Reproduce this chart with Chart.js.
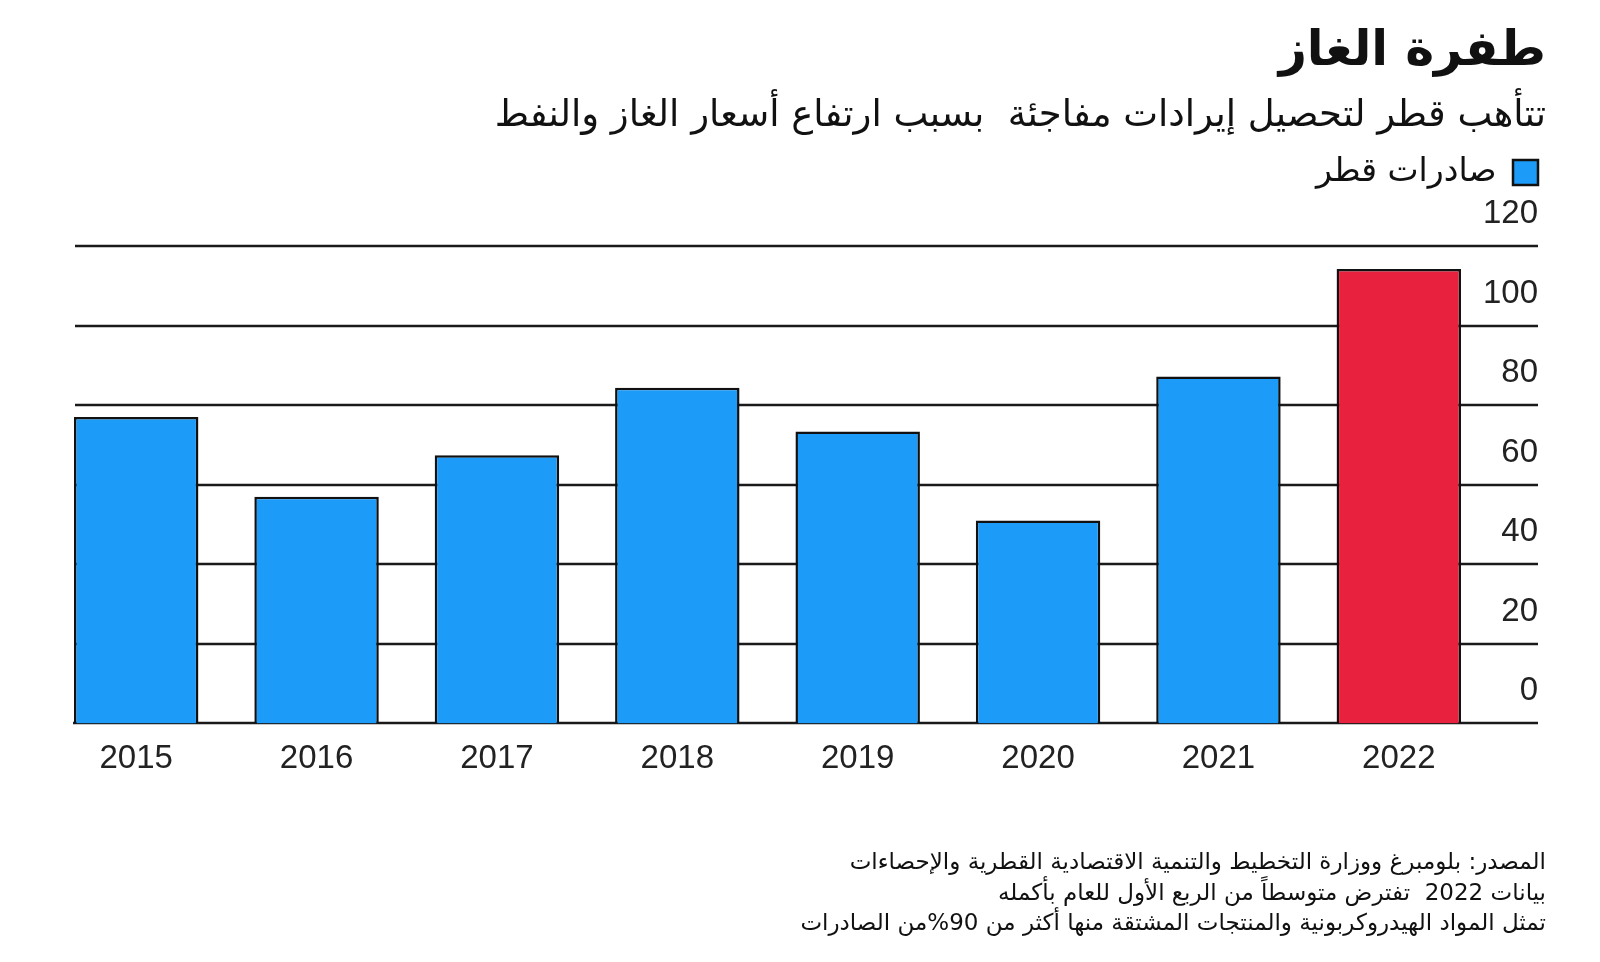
<!DOCTYPE html>
<html lang="ar" dir="rtl">
<head>
<meta charset="utf-8">
<script src="https://cdn.jsdelivr.net/npm/chart.js@4"></script>
<style>
    html, body { margin: 0; padding: 0; background: #fff; }
    #wrap { position: relative; width: 1600px; height: 962px; overflow: hidden; }
    #chart { position: absolute; left: 0; top: 0; }
    .txt { position: absolute; right: 54px; color: #111; font-family: "DejaVu Sans", sans-serif; white-space: pre; }
    #title { top: 20px; font-size: 49px; font-weight: bold; }
    #subtitle { top: 92px; font-size: 37px; }
    #notes { top: 846px; font-size: 23px; line-height: 30.5px; }
</style>
</head>
<body>
<div id="wrap">
    <canvas id="chart" width="1600" height="962"></canvas>
    <div class="txt" id="title">طفرة الغاز</div>
    <div class="txt" id="subtitle">تتأهب قطر لتحصيل إيرادات مفاجئة  بسبب ارتفاع أسعار الغاز والنفط</div>
    <div class="txt" id="notes">المصدر: بلومبرغ ووزارة التخطيط والتنمية الاقتصادية القطرية والإحصاءات
بيانات 2022  تفترض متوسطاً من الربع الأول للعام بأكمله
تمثل المواد الهيدروكربونية والمنتجات المشتقة منها أكثر من 90%من الصادرات</div>
</div>
<script>
// données
const years = ['2015', '2016', '2017', '2018', '2019', '2020', '2021', '2022'];
const exportsQatar = [77, 57, 67.4, 84.4, 73.4, 51, 87.2, 114.2];
const yTicks = [0, 20, 40, 60, 80, 100, 120];
const seriesName = 'صادرات قطر';

const blue = '#1d9bf9';
const red = '#e8213e';
const ink = '#111';

// lignes de grille : du bord gauche de la première barre jusqu'au bout des étiquettes
const gridPlugin = {
    id: 'gridLines',
    beforeDatasetsDraw(chart) {
        const ctx = chart.ctx;
        const yScale = chart.scales.y;
        const bar0 = chart.getDatasetMeta(0).data[0];
        const x0 = Math.ceil(bar0.x - bar0.width / 2) + 1;
        const x1 = chart.chartArea.right + 49;
        ctx.save();
        ctx.strokeStyle = '#1a1a1a';
        ctx.lineWidth = 2.5;
        yTicks.forEach(v => {
            const y = Math.round(yScale.getPixelForValue(v));
            ctx.beginPath();
            ctx.moveTo(v === 0 ? x0 - 2 : x0, y);
            ctx.lineTo(x1, y);
            ctx.stroke();
        });
        ctx.restore();
    }
};

const ctx = document.getElementById('chart').getContext('2d');
new Chart(ctx, {
    type: 'bar',
    data: {
        labels: years,
        datasets: [{
            label: seriesName,
            data: exportsQatar,
            backgroundColor: c => (c.dataIndex === years.length - 1 ? red : blue),
            borderColor: ink,
            borderWidth: 2.5,
            barPercentage: 0.69,
            categoryPercentage: 1,
        }],
    },
    options: {
        responsive: false,
        animation: false,
        layout: { padding: { top: 94, left: 46, right: 0, bottom: 167 } },
        plugins: {
            tooltip: { enabled: false },
            title: { display: false },
            // espace vide entre la légende et la zone du graphique
            subtitle: {
                display: true,
                text: '',
                weight: 500,
                font: { size: 10 },
                padding: { top: 35, bottom: 0 },
            },
            legend: {
                position: 'top',
                align: 'start',
                rtl: true,
                textDirection: 'rtl',
                labels: {
                    boxWidth: 25,
                    boxHeight: 25,
                    padding: 62,
                    color: ink,
                    font: { family: '"DejaVu Sans", sans-serif', size: 33 },
                },
            },
        },
        scales: {
            x: {
                offset: true,
                grid: { display: false, drawTicks: false },
                border: { display: false },
                ticks: {
                    color: '#222',
                    padding: 16,
                    font: { family: '"Liberation Sans", Arial, sans-serif', size: 33 },
                },
            },
            y: {
                position: 'right',
                min: 0,
                max: 120,
                grid: { display: false, drawTicks: false },
                border: { display: false },
                afterFit: scale => { scale.width = 111; },
                afterBuildTicks: scale => { scale.ticks = yTicks.map(v => ({ value: v })); },
                ticks: {
                    mirror: true,
                    padding: 49,
                    labelOffset: -32,
                    color: '#222',
                    font: { family: '"Liberation Sans", Arial, sans-serif', size: 33 },
                },
            },
        },
    },
    plugins: [gridPlugin],
});
</script>
</body>
</html>
